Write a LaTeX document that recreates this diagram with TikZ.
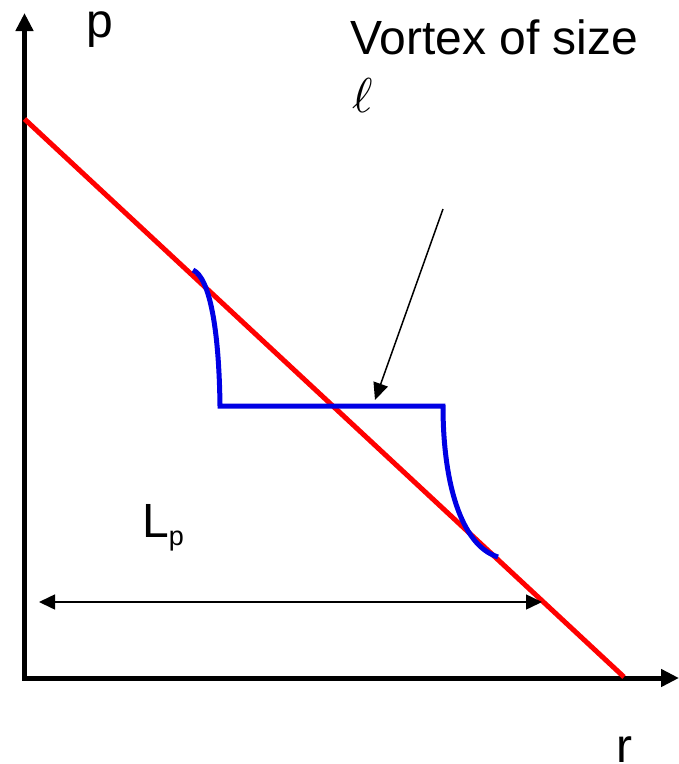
\documentclass[tikz,border=0pt]{standalone}
\usepackage{graphicx}
\usepackage{fontspec}
\newfontfamily\arialf{Liberation Sans}
\usetikzlibrary{arrows.meta}
\definecolor{plotred}{RGB}{255,0,0}
\definecolor{plotblue}{RGB}{0,0,228}
\tikzset{
  axisline/.style={line width=5pt, line join=miter, -{Triangle[length=18pt,width=17pt]}},
  redline/.style={line width=5pt, draw=plotred},
  blueline/.style={line width=5pt, draw=plotblue, line join=miter},
  thinarrow/.style={line width=1.5pt, -{Triangle[length=17pt,width=15pt]}},
  lbl/.style={inner sep=0pt, anchor=base west, font=\arialf\fontsize{48}{52}\selectfont},
}
\begin{document}
\begin{tikzpicture}[x=1pt,y=-1pt]
\useasboundingbox (0,0) rectangle (679,764);
% axes
\coordinate (ytip) at (24.5,13);
\coordinate (orig) at (24.5,678);
\coordinate (xtip) at (679,678);
\draw[line width=5pt] (24.5,660) -- (orig) -- (662,678);
\draw[axisline] (24.5,660) -- (ytip);
\draw[axisline] (660,678) -- (xtip);
% red line
\coordinate (rs) at (24.5,119);
\coordinate (re) at (624,677);
\draw[redline] (rs) -- (re);
% blue curve
\coordinate (b0) at (193,270);
\coordinate (b1) at (220,406);
\coordinate (b2) at (443,406);
\coordinate (b3) at (498,557);
\draw[blueline] (b0) .. controls (210,278) and (219,330) .. (b1) -- (b2)
  .. controls (443,480) and (460,545) .. (b3);
% pointer arrow
\coordinate (ps) at (443,209);
\coordinate (pe) at (375,400);
\draw[thinarrow] (ps) -- (pe);
% L_p arrow
\coordinate (la) at (39,602);
\coordinate (lb) at (542,602);
\draw[line width=1.5pt, {Triangle[length=16pt,width=15pt]}-{Triangle[length=16pt,width=15pt]}] (la) -- (lb);
% labels
\node[lbl] (p) at (86,37) {p};
\node[lbl] (vort) at (350,54) {Vortex of size};
\node[inner sep=0pt, anchor=base west] (ell) at (352,112) {\scalebox{4.9}{$\ell$}};
\node[lbl] (lp) at (142,537) {L\raisebox{-8pt}{\fontsize{27}{27}\selectfont p}};
\node[lbl] (r) at (616,762) {r};
\end{tikzpicture}
\end{document}
